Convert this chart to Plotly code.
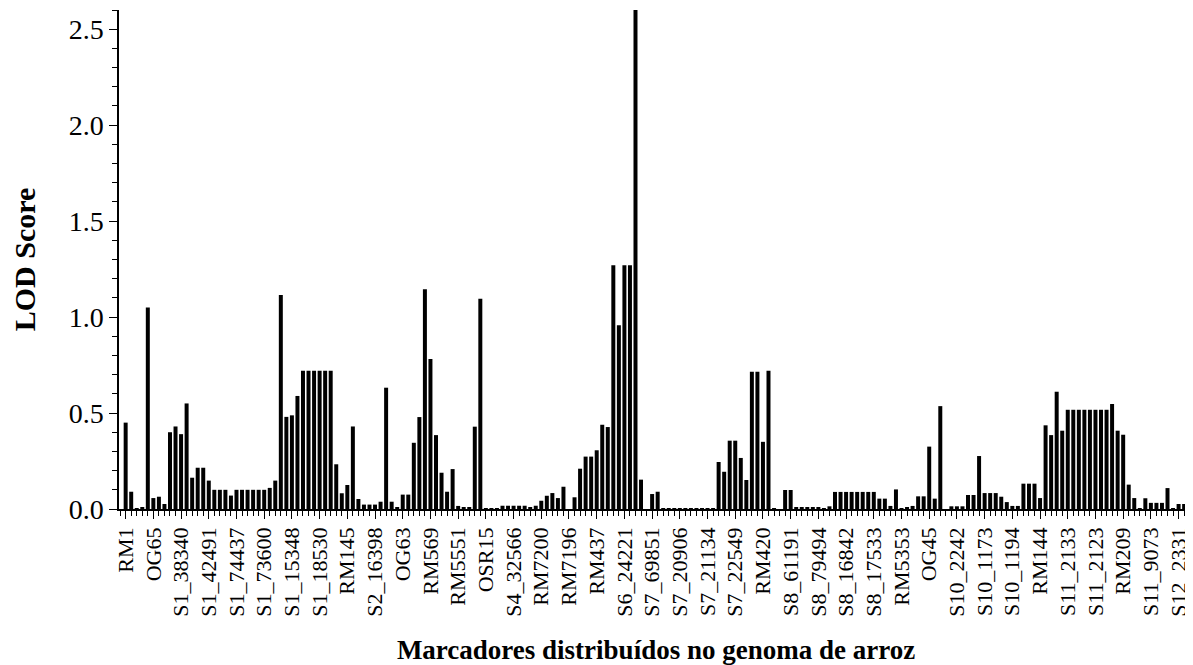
import plotly.graph_objects as go

# LOD score for each marker (in genome order)
lod = [
    0.45, 0.09, 0.005, 0.01, 1.05, 0.057, 0.064, 0.026, 0.40, 0.43,
    0.39, 0.55, 0.163, 0.215, 0.215, 0.148, 0.10, 0.10, 0.10, 0.07,
    0.10, 0.10, 0.10, 0.10, 0.10, 0.10, 0.11, 0.148, 1.115, 0.48,
    0.488, 0.589, 0.72, 0.72, 0.72, 0.72, 0.72, 0.72, 0.233, 0.082,
    0.125, 0.43, 0.052, 0.023, 0.023, 0.023, 0.038, 0.632, 0.038, 0.007,
    0.075, 0.075, 0.345, 0.479, 1.145, 0.781, 0.385, 0.189, 0.09, 0.208,
    0.016, 0.01, 0.007, 0.429, 1.095, 0.005, 0.005, 0.005, 0.017, 0.017,
    0.017, 0.017, 0.017, 0.007, 0.017, 0.043, 0.069, 0.083, 0.057, 0.116,
    0.0, 0.061, 0.21, 0.273, 0.273, 0.306, 0.439, 0.427, 1.27, 0.958,
    1.27, 1.27, 2.7, 0.153, 0.0, 0.078, 0.09, 0.005, 0.005, 0.005,
    0.005, 0.005, 0.005, 0.005, 0.005, 0.005, 0.005, 0.245, 0.194, 0.356,
    0.356, 0.266, 0.151, 0.715, 0.715, 0.35, 0.72, 0.005, 0.0, 0.099,
    0.099, 0.01, 0.01, 0.01, 0.01, 0.01, 0.005, 0.014, 0.089, 0.089,
    0.089, 0.089, 0.089, 0.089, 0.089, 0.089, 0.054, 0.054, 0.016, 0.102,
    0.005, 0.01, 0.016, 0.066, 0.066, 0.325, 0.054, 0.536, 0.0, 0.014,
    0.014, 0.014, 0.073, 0.073, 0.276, 0.083, 0.083, 0.083, 0.064, 0.036,
    0.016, 0.016, 0.132, 0.132, 0.132, 0.057, 0.436, 0.385, 0.611, 0.408,
    0.517, 0.517, 0.517, 0.517, 0.517, 0.517, 0.517, 0.517, 0.547, 0.408,
    0.387, 0.127, 0.057, 0.005, 0.056, 0.032, 0.032, 0.032, 0.109, 0.005,
    0.026, 0.026,
]

# Marker names shown on the axis (every fifth marker)
marker_labels = [
    "RM1", "OG65", "S1_38340", "S1_42491", "S1_74437", "S1_73600",
    "S1_15348", "S1_18530", "RM145", "S2_16398", "OG63", "RM569",
    "RM5551", "OSR15", "S4_32566", "RM7200", "RM7196", "RM437",
    "S6_24221", "S7_69851", "S7_20906", "S7_21134", "S7_22549", "RM420",
    "S8_61191", "S8_79494", "S8_16842", "S8_17533", "RM5353", "OG45",
    "S10_2242", "S10_1173", "S10_1194", "RM144", "S11_2133", "S11_2123",
    "RM209", "S11_9073", "S12_2331",
]
label_step = 5

y_ticks = [0.0, 0.5, 1.0, 1.5, 2.0, 2.5]

positions = list(range(len(lod)))
tick_positions = positions[::label_step][:len(marker_labels)]

FONT = "Liberation Serif, Times New Roman, serif"

fig = go.Figure(
    go.Bar(
        x=positions,
        y=lod,
        marker=dict(color="black", line=dict(width=0)),
        width=0.72,
    )
)

# the page body has an 8px default margin, so the figure is sized to fit the window
fig.update_layout(
    width=1185,
    height=657,
    margin=dict(l=111, r=0, t=2, b=155.5, autoexpand=False),
    paper_bgcolor="white",
    plot_bgcolor="white",
    showlegend=False,
    font=dict(family=FONT, color="black"),
)

fig.update_xaxes(
    automargin=False,
    range=[-1.2, 192.6],
    tickmode="array",
    tickvals=tick_positions,
    ticktext=marker_labels,
    tickangle=-90,
    tickfont=dict(family=FONT, size=22, color="black"),
    ticks="outside",
    ticklen=8,
    tickwidth=1.2,
    tickcolor="black",
    minor=dict(dtick=1, tick0=0, ticks="outside", ticklen=5, tickwidth=1, tickcolor="black"),
    showline=True,
    linecolor="black",
    linewidth=1.5,
    showgrid=False,
    zeroline=False,
    title=dict(
        text="<b>Marcadores distribuídos no genoma de arroz</b>",
        font=dict(family=FONT, size=27, color="black"),
        standoff=30,
    ),
)

fig.update_yaxes(
    automargin=False,
    range=[0, 2.6],
    tickmode="array",
    tickvals=y_ticks,
    ticktext=[f"{v:.1f}" for v in y_ticks],
    tickfont=dict(family=FONT, size=28, color="black"),
    ticks="outside",
    ticklen=8,
    tickwidth=1.2,
    tickcolor="black",
    minor=dict(dtick=0.1, tick0=0, ticks="outside", ticklen=5, tickwidth=1, tickcolor="black"),
    showline=True,
    linecolor="black",
    linewidth=1.5,
    showgrid=False,
    zeroline=False,
    title=dict(
        text="<b>LOD Score</b>",
        font=dict(family=FONT, size=30, color="black"),
        standoff=32,
    ),
)

fig.write_html("out.html")
